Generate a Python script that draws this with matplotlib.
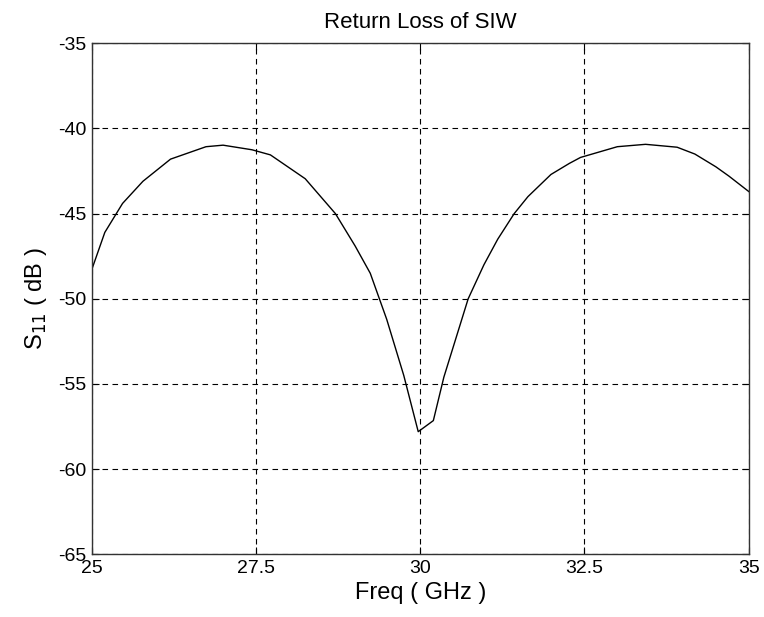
import numpy as np
import matplotlib
matplotlib.use('Agg')
import matplotlib.pyplot as plt

plt.rcParams['font.family'] = ['Liberation Sans', 'DejaVu Sans']
plt.rcParams['axes.unicode_minus'] = False

# S11
freq = [25.0, 25.2, 25.47, 25.78, 26.2, 26.74, 27.0, 27.44, 27.72, 28.25, 28.71,
        29.01, 29.24, 29.49, 29.75, 29.97, 30.2, 30.36, 30.73, 30.97, 31.18,
        31.43, 31.64, 31.99, 32.27, 32.44, 33.0, 33.43, 33.91, 34.18, 34.5,
        34.7, 35.0]
s11 = [-48.3, -46.1, -44.4, -43.1, -41.8, -41.07, -40.98, -41.25, -41.55, -42.95,
       -45.0, -46.9, -48.5, -51.2, -54.5, -57.8, -57.15, -54.6, -50.0, -48.0,
       -46.5, -45.0, -44.0, -42.7, -42.05, -41.7, -41.07, -40.93, -41.1, -41.5,
       -42.25, -42.8, -43.7]

xticks = [25, 27.5, 30, 32.5, 35]
xticklabels = ['25', '27.5', '30', '32.5', '35']
yticks = [-65, -60, -55, -50, -45, -40, -35]

f = plt.figure(figsize=(7.64, 6.17), dpi=100, facecolor='white')
ax = f.add_axes([0.12, 0.1016, 0.86, 0.8282])
ax.plot(freq, s11, '-', color='black', lw=1.0)

ax.set_xlim(25, 35)
ax.set_ylim(-65, -35)
ax.set_xticks(xticks)
ax.set_xticklabels(xticklabels)
ax.set_yticks(yticks)
ax.grid(True, color='black', linestyle=(0, (5, 4)), lw=0.8)
ax.tick_params(axis='both', direction='in', length=5, width=0.8,
               labelsize=14, pad=4, top=True, right=True)
for s in ax.spines.values():
    s.set_linewidth(1.0)
    s.set_color('#333333')

ax.set_title('Return Loss of SIW', fontsize=16, pad=11)
ax.set_xlabel('Freq ( GHz )', fontsize=17, labelpad=4)
ax.set_ylabel(r'S$_{11}$ ( dB )', fontsize=17, labelpad=6)

f.savefig('out.png', dpi=100, facecolor='white')
